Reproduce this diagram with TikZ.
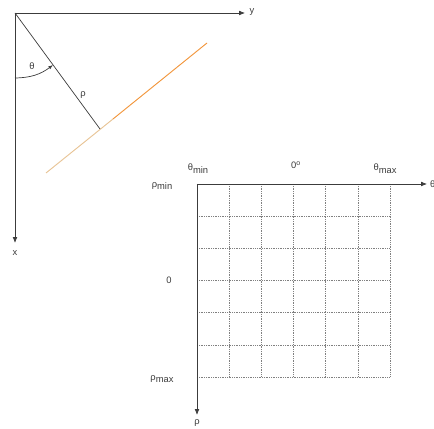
\documentclass[tikz,border=0pt]{standalone}
\usepackage{fontspec}
\setmainfont{Liberation Sans}
\usetikzlibrary{arrows.meta}
\definecolor{axisgray}{RGB}{60,60,60}
\definecolor{lineorange}{RGB}{242,150,60}
\definecolor{paleorange}{RGB}{232,196,150}
\newcommand{\lowsub}[1]{\raisebox{-0.3em}{#1}}

\begin{document}
\begin{tikzpicture}[x=0.03cm,y=-0.03cm,>={Latex[length=5pt,width=4pt]},
    axis/.style={draw=axisgray,line width=0.6pt},
    lbl/.style={font=\fontsize{8}{9}\selectfont,text=axisgray,inner sep=0pt},
    cell/.style={draw=gray,densely dotted,line width=0.5pt}]
    \useasboundingbox (0,0) rectangle (434,429);
    % image space: x-y axes and the line
    \coordinate (O) at (15,13);
    \coordinate (yend) at (245,13);
    \coordinate (xend) at (15,243);
    \coordinate (foot) at (100,129);
    \coordinate (lo) at (46,173);
    \coordinate (fade) at (113,119);
    \coordinate (hi) at (207,43);
    \coordinate (arcA) at (15,78);
    \coordinate (arcB) at (53,65);
    \draw[axis,->] (O) -- (yend);
    \draw[axis,->] (O) -- (xend);
    \draw[paleorange,line width=0.8pt] (lo) -- (fade);
    \draw[lineorange,line width=0.8pt] (fade) -- (hi);
    \draw[axis] (O) -- (foot);
    \draw[axis,->,>={Latex[length=4pt,width=3pt]}] (arcA) to[bend right=18] (arcB);
    \node[lbl] (ylab) at (252,12) {y};
    \node[lbl] (xlab) at (15,253) {x};
    \node[lbl] (thlab) at (32,66) {θ};
    \node[lbl] (rholab) at (83,95) {ρ};
    % parameter space: accumulator grid
    \coordinate (G) at (197,184);
    \coordinate (thend) at (427,184);
    \coordinate (rhoend) at (197,415);
    \foreach \i in {1,...,6} {
      \draw[cell] (197+32.17*\i,184) -- (197+32.17*\i,377);
      \draw[cell] (197,184+32.17*\i) -- (390,184+32.17*\i);
    }
    \draw[axis,->] (G) -- (thend);
    \draw[axis,->] (G) -- (rhoend);
    \node[lbl,anchor=west] (thaxis) at (430,184) {θ};
    \node[lbl] (rhoaxis) at (197,423) {ρ};
    \node[lbl] (thmin) at (198,169) {θ\lowsub{min}};
    \node[lbl] (thzero) at (296,165) {0\textsuperscript{o}};
    \node[lbl] (thmax) at (385,169) {θ\lowsub{max}};
    \node[lbl] (rhomin) at (162,186) {ρ\lowsub{min}};
    \node[lbl] (rhozero) at (169,280) {0};
    \node[lbl] (rhomax) at (162,379) {ρ\lowsub{max}};
\end{tikzpicture}
\end{document}
